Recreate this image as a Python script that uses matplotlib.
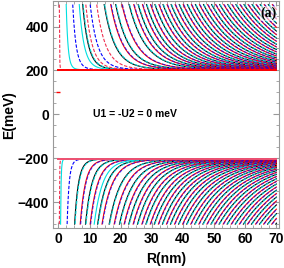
import numpy as np
import matplotlib.pyplot as plt

# gap edge and cut-off energy (meV)
gap = 203.0
e_cut = 500.0
power = 3.0

# R (nm) where each branch leaves the plot at |E| = 500 meV
# "dark" levels: black solid with cyan dashed on top; "red" levels: red solid with blue dashed
up_dark = [7.8, 14.7, 18.4, 22.7, 25.6, 28.3, 31.0, 33.6, 36.2, 38.8, 41.4, 44.0,
           46.6, 49.2, 51.8, 54.4, 57.0, 59.6, 62.2, 64.8, 67.4]
up_red = [16.8, 20.4, 24.2, 27.0, 29.6, 32.3, 34.9, 37.5, 40.1, 42.7, 45.3, 47.9,
          50.5, 53.1, 55.7, 58.3, 60.9, 63.5, 66.1, 68.7]
up_red_dashed = [0.3, 8.8, 12.3]
up_cyan_only = [2.5, 6.7]
up_blue_only = [4.6, 10.2]

lo_dark = [5.2, 8.7, 12.6, 16.3, 19.6, 22.6, 25.4, 28.1, 30.8, 33.4, 36.0, 38.6,
           41.2, 43.8, 46.4, 49.0, 51.6, 54.2, 56.8, 59.4, 62.0, 64.6, 67.2, 69.8]
lo_red = [7.0, 10.2, 14.0, 17.9, 21.1, 24.0, 26.8, 29.5, 32.1, 34.7, 37.3, 39.9,
          42.5, 45.1, 47.7, 50.3, 52.9, 55.5, 58.1, 60.7, 63.3, 65.9, 68.5]
lo_red_dashed = [0.3]
lo_cyan_only = [0.7, 11.5]
lo_blue_only = [2.8]

flat_R = [0.0, 70.0]
flat_up = [204.0, 204.0]
flat_lo = [-202.0, -202.0]
stray_R = [0.0]
stray_E = [100.0]


def branch(r0, sign):
    r = np.linspace(r0, 70, 400)
    a = np.sqrt(e_cut**2 - gap**2)
    return r, sign * np.sqrt(gap**2 + (a * (r0 / r) ** power) ** 2)


fig = plt.figure(figsize=(2.84, 2.68), dpi=100)
ax = fig.add_axes([0.187, 0.149, 0.795, 0.847])

dash = (0, (3, 1.5))
lw = 0.8
halves = [(1, up_dark, up_red, up_red_dashed, up_cyan_only, up_blue_only),
          (-1, lo_dark, lo_red, lo_red_dashed, lo_cyan_only, lo_blue_only)]
for s, dark, red, red_d, cyan, blue in halves:
    for r0 in dark:
        r, e = branch(r0, s)
        ax.plot(r, e, color='black', lw=lw)
        r, e = branch(r0 + 0.15, s)
        ax.plot(r, e, color='#00d8d8', lw=lw, ls=dash)
    for r0 in red:
        r, e = branch(r0, s)
        ax.plot(r, e, color='red', lw=lw)
        r, e = branch(r0 + 0.15, s)
        ax.plot(r, e, color='blue', lw=lw, ls=dash, alpha=0.7)
    for r0 in red_d:
        r, e = branch(r0, s)
        ax.plot(r, e, color='#f03050', lw=lw, ls=dash)
    for r0 in cyan:
        r, e = branch(r0, s)
        ax.plot(r, e, color='#00e0e0', lw=lw)
    for r0 in blue:
        r, e = branch(r0, s)
        ax.plot(r, e, color='blue', lw=lw, ls=dash)

ax.plot(flat_R, flat_up, color='red', lw=1.4)
ax.plot(flat_R, flat_lo, color='#f05070', lw=1.4)
ax.plot(stray_R, stray_E, color='red', marker='_', ms=3, lw=0)

ax.set_xlim(-1.7, 70.8)
ax.set_ylim(-518, 516)
ax.set_xticks(range(0, 71, 10))
ax.set_xticks(np.arange(0, 71, 2.5), minor=True)
ax.set_yticks([-400, -200, 0, 200, 400])
ax.set_yticks(np.arange(-500, 501, 50), minor=True)
ax.tick_params(which='both', direction='in', top=True, right=True, color='#999999')
ax.tick_params(which='major', length=4, pad=3)
ax.tick_params(which='minor', length=2)
for lab in ax.get_xticklabels() + ax.get_yticklabels():
    lab.set_fontfamily('Liberation Sans')
    lab.set_fontweight('bold')
    lab.set_fontsize(10)
for sp in ax.spines.values():
    sp.set_color('#999999')
    sp.set_linewidth(0.8)

ax.set_xlabel('R(nm)', fontfamily='Liberation Sans', fontweight='bold', fontsize=10, labelpad=4)
ax.set_ylabel('E(meV)', fontfamily='Liberation Sans', fontweight='bold', fontsize=10, labelpad=1)
ax.text(11, 0, 'U1 = -U2 = 0 meV', fontfamily='Liberation Sans', fontweight='bold',
        fontsize=7.5, va='center', ha='left')
ax.text(0.99, 0.975, '(a)', transform=ax.transAxes, fontfamily='Liberation Serif',
        fontweight='bold', fontsize=10, ha='right', va='top',
        bbox=dict(facecolor='white', edgecolor='none', alpha=0.6, pad=0.5))

fig.savefig('out.png', dpi=100)
